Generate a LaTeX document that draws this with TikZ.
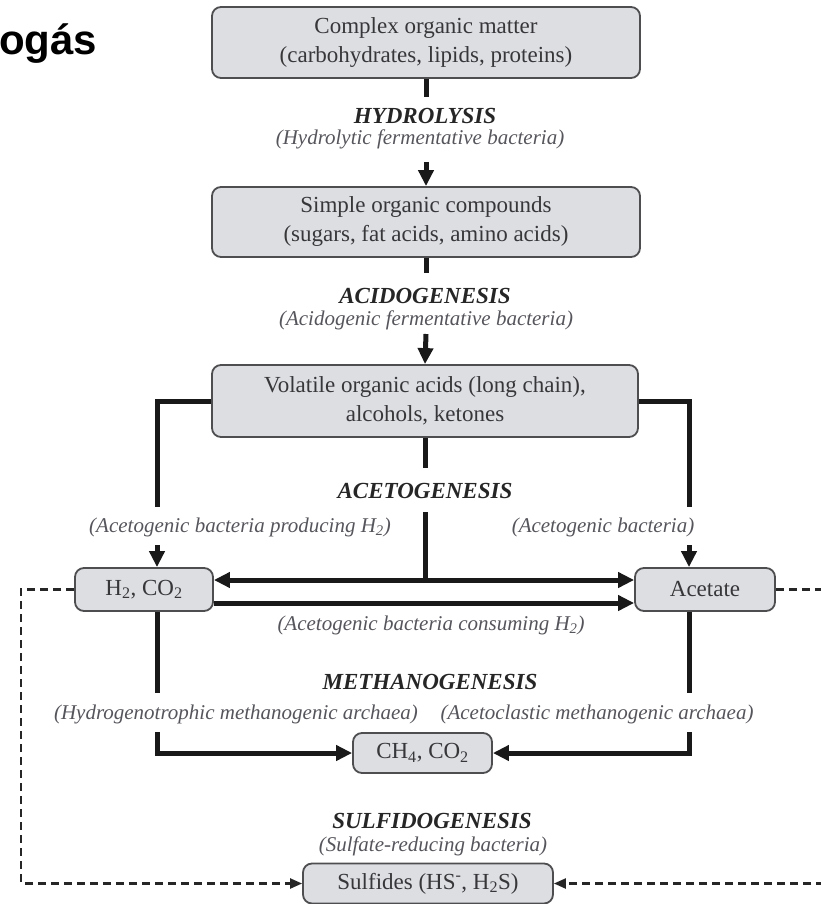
\documentclass[tikz,border=0pt]{standalone}
\usepackage{fontspec}
\setmainfont{Liberation Serif}
\newfontfamily\titlefont{Liberation Sans}
\usetikzlibrary{arrows.meta}
\definecolor{boxfill}{RGB}{221,222,226}
\definecolor{boxline}{RGB}{78,78,80}
\definecolor{boxtext}{RGB}{55,55,58}
\definecolor{labeltext}{RGB}{85,85,92}
\tikzset{
  stage/.style={draw=boxline, fill=boxfill, line width=1.8pt, rounded corners=9pt,
    inner sep=0pt, align=center, text=boxtext, font=\fontsize{23}{29}\selectfont},
  phase/.style={text=black!85, inner sep=0pt, font=\fontsize{23}{27}\selectfont\bfseries\itshape},
  agent/.style={text=labeltext, inner sep=0pt, font=\fontsize{21}{25}\selectfont\itshape},
  flow/.style={line width=5pt, black!90},
  flowarrow/.style={flow, -{Triangle[length=16pt,width=15pt]}},
  sidechain/.style={line width=2.2pt, dash pattern=on 8pt off 5pt, black!85,
    -{Triangle[length=12pt,width=10pt]}}
}
\begin{document}
\begin{tikzpicture}[x=1pt,y=-1pt]
      \clip (0,0) rectangle (821,904);
      \node[anchor=base west, inner sep=0pt, font=\titlefont\bfseries\fontsize{42}{42}\selectfont] (title) at (-1,55) {ogás};
      \node[stage, minimum width=428pt, minimum height=71pt] (complex) at (426,42.5) {Complex organic matter\\(carbohydrates, lipids, proteins)};
      \node[stage, minimum width=428pt, minimum height=70pt] (simple) at (426,222) {Simple organic compounds\\(sugars, fat acids, amino acids)};
      \node[stage, minimum width=426pt, minimum height=72pt] (volatile) at (425,401) {Volatile organic acids (long chain),\\alcohols, ketones};
      \node[stage, minimum width=138pt, minimum height=43pt] (hco) at (144,589.5) {H\textsubscript{2}, CO\textsubscript{2}};
      \node[stage, minimum width=140pt, minimum height=43pt] (acetate) at (705,589.5) {Acetate};
      \node[stage, minimum width=139pt, minimum height=40pt] (methane) at (422.5,753) {CH\textsubscript{4}, CO\textsubscript{2}};
      \node[stage, minimum width=250pt, minimum height=40pt] (sulfide) at (428,883.5) {Sulfides (HS\textsuperscript{-}, H\textsubscript{2}S)};
      \node[phase] (hydrolysis) at (425,115.5) {HYDROLYSIS};
      \node[agent] (hydrolytic) at (420,139) {(Hydrolytic fermentative bacteria)};
      \node[phase] (acidogenesis) at (425,296) {ACIDOGENESIS};
      \node[agent] (acidogenic) at (426,320) {(Acidogenic fermentative bacteria)};
      \node[phase] (acetogenesis) at (425,491) {ACETOGENESIS};
      \node[agent] (producing) at (240,527) {(Acetogenic bacteria producing \textit{H}\textsubscript{2})};
      \node[agent] (acetogenic) at (603,527) {(Acetogenic bacteria)};
      \node[agent] (consuming) at (431,625) {(Acetogenic bacteria consuming \textit{H}\textsubscript{2})};
      \node[phase] (methanogenesis) at (430,682) {METHANOGENESIS};
      \node[agent] (hydrogenotrophic) at (236,714) {(Hydrogenotrophic methanogenic archaea)};
      \node[agent] (acetoclastic) at (597,714) {(Acetoclastic methanogenic archaea)};
      \node[phase] (sulfidogenesis) at (432,821) {SULFIDOGENESIS};
      \node[agent] (sulfatereducing) at (433,846) {(Sulfate-reducing bacteria)};
      \coordinate (hydtop) at (426,97);
      \coordinate (hydbot) at (426,162);
      \coordinate (acitop) at (426,273);
      \coordinate (acibot) at (426,334);
      \coordinate (lefttop) at (157,507);
      \coordinate (leftbot) at (157,545);
      \coordinate (righttop) at (689,507);
      \coordinate (rightbot) at (689,545);
      \coordinate (midtop) at (425,468);
      \coordinate (midbot) at (425,512);
      \coordinate (midjoin) at (425,580);
      \coordinate (hydrodown) at (157,693);
      \coordinate (hydroup) at (157,732);
      \coordinate (acedown) at (689,693);
      \coordinate (aceup) at (689,732);
      \coordinate (dashleft) at (21,883.5);
      \coordinate (dashright) at (835,883.5);
      \begin{scope}
        \draw[flow] (complex.south) -- (hydtop);
        \draw[flowarrow] (hydbot) -- (simple.north);
        \draw[flow] (simple.south) -- (acitop);
        \draw[flowarrow] (acibot) -- (volatile.north);
        \draw[flow] (volatile.west) -| (lefttop);
        \draw[flowarrow] (leftbot) -- (leftbot |- hco.north);
        \draw[flow] (volatile.east) -| (righttop);
        \draw[flowarrow] (rightbot) -- (rightbot |- acetate.north);
        \draw[flow] (volatile.south) -- (midtop);
        \draw[flow] (midbot) -- (midjoin);
        \draw[flowarrow] (midjoin) -- (midjoin -| hco.east);
        \draw[flowarrow] (midjoin) -- (midjoin -| acetate.west);
        \draw[flowarrow] ([yshift=-13.5pt]hco.east) -- ([yshift=-13.5pt]acetate.west);
        \draw[flow] (hydrodown |- hco.south) -- (hydrodown);
        \draw[flowarrow] (hydroup) |- (methane.west);
        \draw[flow] (acedown |- acetate.south) -- (acedown);
        \draw[flowarrow] (aceup) |- (methane.east);
        \draw[sidechain] (hco.west) -| (dashleft) -- (sulfide.west);
        \draw[sidechain] (acetate.east) -| (dashright) -- (sulfide.east);
      \end{scope}
    \end{tikzpicture}
\end{document}
